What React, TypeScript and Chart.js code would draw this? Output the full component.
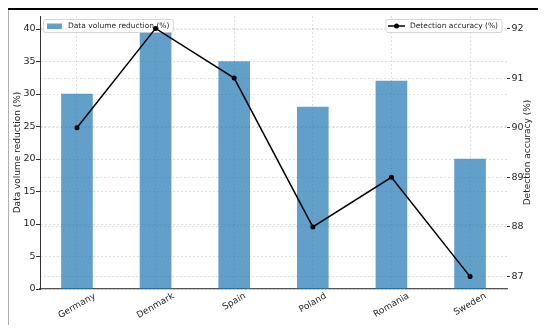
import { useEffect, useRef } from "react";
import { Chart, registerables } from "chart.js";

Chart.register(...registerables);

const categories = ["Germany", "Denmark", "Spain", "Poland", "Romania", "Sweden"];
const dataVolumeReduction = [30, 39.5, 35, 28, 32, 20];
const detectionAccuracy = [90, 92, 91, 88, 89, 87];
const leftTicks = [0, 5, 10, 15, 20, 25, 30, 35, 40];
const rightTicks = [87, 88, 89, 90, 91, 92];
const leftTitle = "Data volume reduction (%)";
const rightTitle = "Detection accuracy (%)";
const barLegend = "Data volume reduction (%)";
const lineLegend = "Detection accuracy (%)";

const FONT = '"DejaVu Sans", sans-serif';
const TEXT = "#262626";
const GRID = "rgba(0,0,0,0.16)";
const BAR = "rgba(31,119,180,0.7)";

function drawLeftLegend(ctx: CanvasRenderingContext2D) {
  ctx.save();
  ctx.font = `7.5px ${FONT}`;
  const tw = ctx.measureText(barLegend).width;
  const x = 43.5, y = 19.5, h = 13;
  const w = 68 - x + tw + 4;
  ctx.fillStyle = "rgba(255,255,255,0.8)";
  ctx.strokeStyle = "#cccccc";
  ctx.lineWidth = 0.8;
  ctx.beginPath();
  ctx.roundRect(x, y, w, h, 2);
  ctx.fill();
  ctx.stroke();
  ctx.fillStyle = BAR;
  ctx.fillRect(47, 23.5, 15, 5.5);
  ctx.fillStyle = TEXT;
  ctx.textBaseline = "middle";
  ctx.textAlign = "left";
  ctx.fillText(barLegend, 68, 26.5);
  ctx.restore();
}

function drawRightLegend(ctx: CanvasRenderingContext2D) {
  ctx.save();
  ctx.font = `7.5px ${FONT}`;
  const tw = ctx.measureText(lineLegend).width;
  const right = 502, y = 19.5, h = 13;
  const w = 24 + tw + 4;
  const x = right - w;
  ctx.fillStyle = "rgba(255,255,255,0.8)";
  ctx.strokeStyle = "#cccccc";
  ctx.lineWidth = 0.8;
  ctx.beginPath();
  ctx.roundRect(x, y, w, h, 2);
  ctx.fill();
  ctx.stroke();
  ctx.strokeStyle = "#000";
  ctx.lineWidth = 1.5;
  ctx.beginPath();
  ctx.moveTo(x + 2, 26);
  ctx.lineTo(x + 19, 26);
  ctx.stroke();
  ctx.fillStyle = "#000";
  ctx.beginPath();
  ctx.arc(x + 10.5, 26, 2.5, 0, Math.PI * 2);
  ctx.fill();
  ctx.fillStyle = TEXT;
  ctx.textBaseline = "middle";
  ctx.textAlign = "left";
  ctx.fillText(lineLegend, x + 24, 26.5);
  ctx.restore();
}

const decorPlugin = {
  id: "decor",
  beforeDatasetDraw(chart: any, args: any) {
    if (args.index === 1) drawLeftLegend(chart.ctx);
  },
  afterDatasetsDraw(chart: any) {
    drawRightLegend(chart.ctx);
  },
  afterDraw(chart: any) {
    const ctx: CanvasRenderingContext2D = chart.ctx;
    const xs = chart.scales.x;
    const area = chart.chartArea;
    ctx.save();
    ctx.font = `9px ${FONT}`;
    ctx.fillStyle = TEXT;
    ctx.textAlign = "center";
    ctx.textBaseline = "middle";
    const rot = (30 * Math.PI) / 180;
    categories.forEach((c, i) => {
      const px = xs.getPixelForValue(i);
      const w = ctx.measureText(c).width;
      const hh = 8;
      const bboxH = w * Math.sin(rot) + hh * Math.cos(rot);
      const cy = area.bottom + 3 + bboxH / 2;
      ctx.save();
      ctx.translate(px, cy);
      ctx.rotate(-rot);
      ctx.fillText(c, 0, 0);
      ctx.restore();
    });
    const cy = (area.top + area.bottom) / 2;
    ctx.save();
    ctx.translate(18, cy);
    ctx.rotate(-Math.PI / 2);
    ctx.fillText(leftTitle, 0, 0);
    ctx.restore();
    ctx.save();
    ctx.translate(527.5, cy);
    ctx.rotate(-Math.PI / 2);
    ctx.fillText(rightTitle, 0, 0);
    ctx.restore();
    ctx.strokeStyle = "#000";
    ctx.lineWidth = 2;
    ctx.beginPath();
    ctx.moveTo(8, 9);
    ctx.lineTo(538, 9);
    ctx.stroke();
    ctx.strokeStyle = "#b0b0b0";
    ctx.lineWidth = 1;
    ctx.beginPath();
    ctx.moveTo(8.5, 10);
    ctx.lineTo(8.5, 325);
    ctx.stroke();
    ctx.restore();
  },
};

export default function App() {
  const ref = useRef<HTMLCanvasElement | null>(null);
  useEffect(() => {
    if (!ref.current) return;
    const chart = new Chart(ref.current, {
      type: "bar",
      data: {
        datasets: [
          {
            type: "bar",
            label: barLegend,
            data: dataVolumeReduction.map((v, i) => ({ x: i, y: v })),
            backgroundColor: BAR,
            borderWidth: 0,
            barThickness: 31,
            yAxisID: "y",
            order: 1,
          },
          {
            type: "line",
            label: lineLegend,
            data: detectionAccuracy.map((v, i) => ({ x: i, y: v })),
            borderColor: "#000",
            borderWidth: 1.5,
            pointRadius: 2.5,
            pointBackgroundColor: "#000",
            pointBorderWidth: 0,
            tension: 0,
            yAxisID: "y1",
            order: 0,
          },
        ] as any,
      },
      options: {
        animation: false,
        responsive: false,
        maintainAspectRatio: false,
        layout: { padding: { top: 16, left: 0, right: 0, bottom: 0 } },
        plugins: { legend: { display: false }, tooltip: { enabled: false } },
        scales: {
          x: {
            type: "linear",
            offset: false,
            min: -0.47,
            max: 5.47,
            afterBuildTicks: (s: any) => {
              s.ticks = categories.map((_, i) => ({ value: i }));
            },
            afterFit: (s: any) => {
              s.height = 42;
            },
            ticks: { display: false },
            grid: { offset: false, color: GRID, lineWidth: 0.8, drawTicks: false },
            border: { display: true, color: "#555", width: 1.3, dash: [2, 2] },
          },
          y: {
            position: "left",
            min: 0,
            max: 42,
            afterBuildTicks: (s: any) => {
              s.ticks = leftTicks.map((v) => ({ value: v }));
            },
            afterFit: (s: any) => {
              s.width = 40;
            },
            ticks: { font: { family: FONT, size: 9.5 }, color: TEXT, padding: 0.5 },
            grid: {
              color: GRID,
              lineWidth: 0.8,
              tickLength: 4,
              tickColor: "#333",
              tickWidth: 1,
              tickBorderDash: [],
            },
            border: { display: true, color: "#333", width: 1, dash: [2, 2] },
          },
          y1: {
            position: "right",
            min: 86.75,
            max: 92.25,
            afterBuildTicks: (s: any) => {
              s.ticks = rightTicks.map((v) => ({ value: v }));
            },
            afterFit: (s: any) => {
              s.width = 43;
            },
            ticks: { font: { family: FONT, size: 9.5 }, color: TEXT, padding: 1.5 },
            grid: {
              color: GRID,
              lineWidth: 0.8,
              tickLength: 3,
              tickColor: "#333",
              tickWidth: 1,
              tickBorderDash: [],
            },
            border: { display: false, dash: [2, 2] },
          },
        },
      } as any,
      plugins: [decorPlugin],
    });
    return () => chart.destroy();
  }, []);
  return (
    <div style={{ position: "fixed", left: 0, top: 0, width: 550, height: 331, background: "#fff" }}>
      <canvas ref={ref} width={550} height={331} style={{ width: 550, height: 331, display: "block" }} />
    </div>
  );
}
